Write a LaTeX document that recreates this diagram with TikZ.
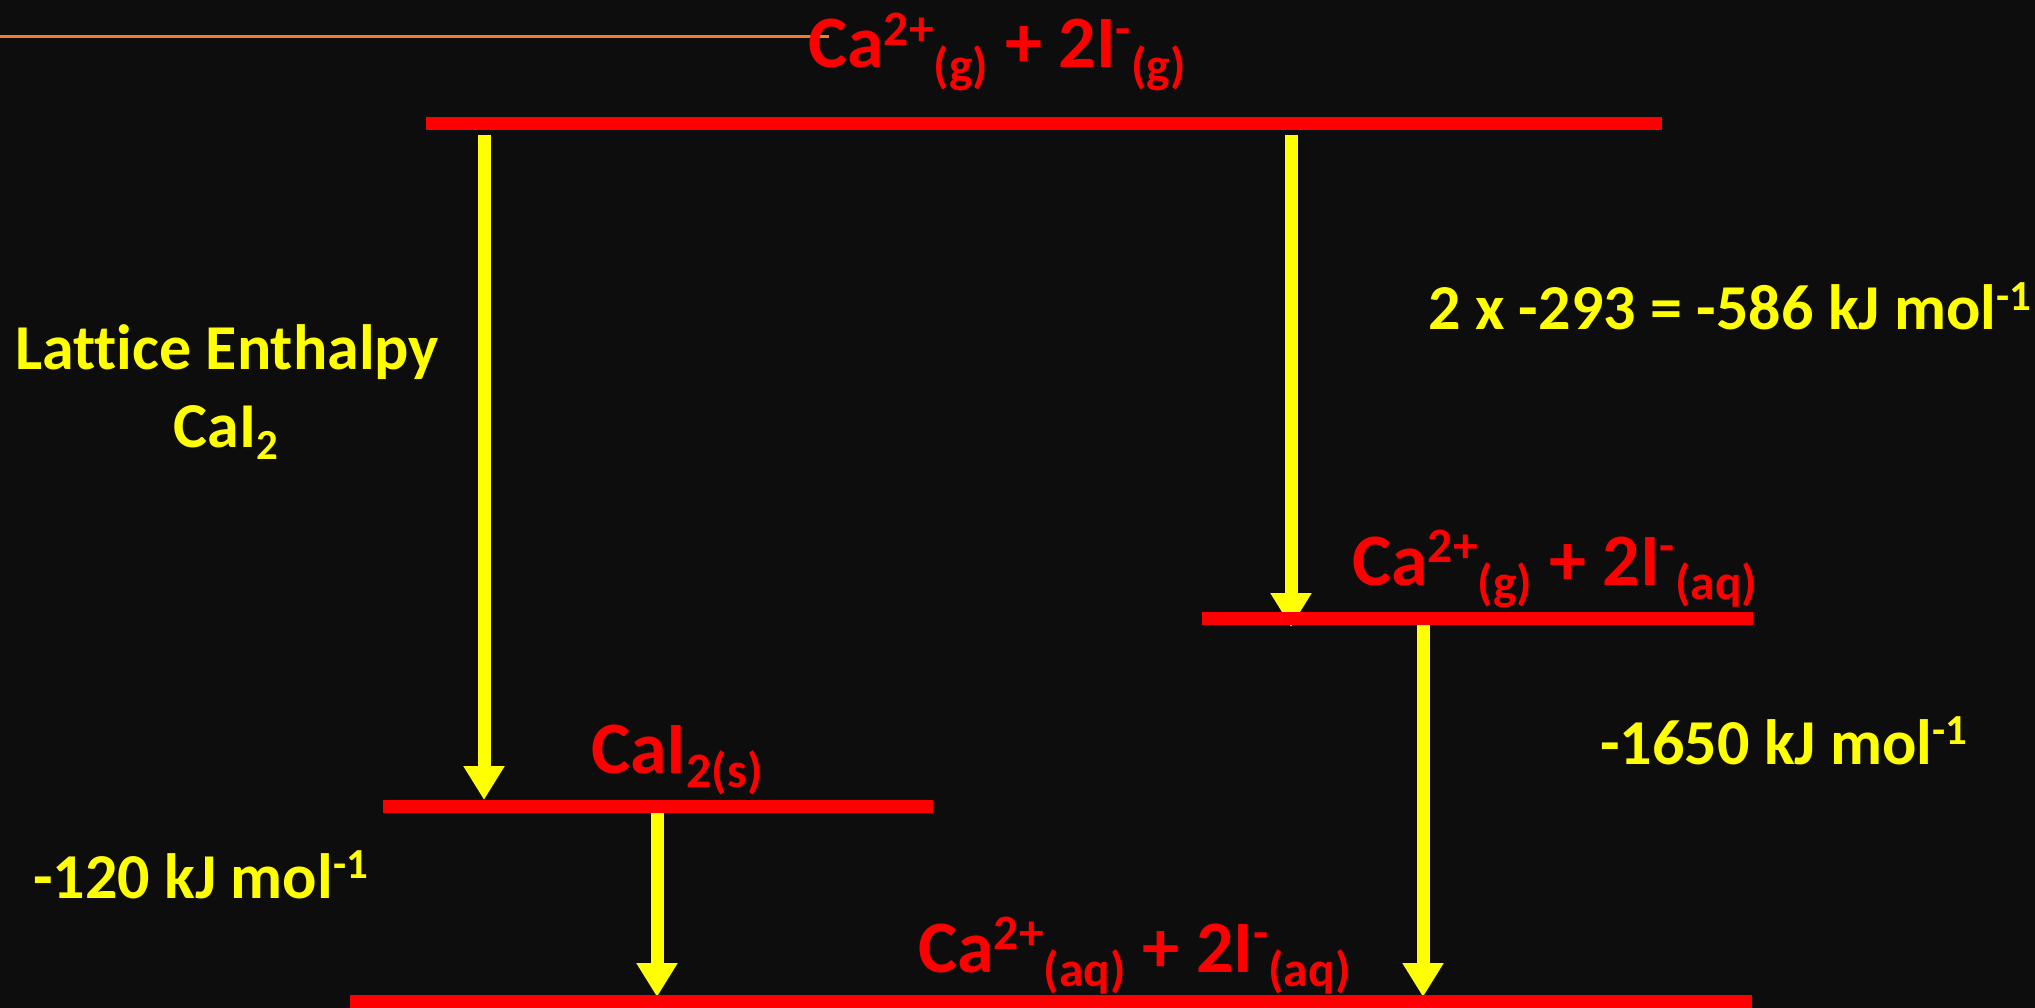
\documentclass[tikz,border=0pt]{standalone}
\usepackage{fontspec}
\setmainfont{Carlito}[Ligatures={NoCommon}]
\usepackage{graphicx}
\usetikzlibrary{arrows.meta}
\definecolor{bgc}{HTML}{0D0D0D}
\definecolor{lvred}{HTML}{FF0000}
\definecolor{yel}{HTML}{FFFF00}
\definecolor{orng}{HTML}{ED7D31}
\newcommand\up[1]{\raisebox{0.3em}{\scalebox{0.67}{#1}}}
\newcommand\dn[1]{\raisebox{-0.2em}{\scalebox{0.67}{#1}}}
\begin{document}
\begin{tikzpicture}[x=1pt,y=-1pt,
  level/.style={fill=lvred, draw=none, inner sep=0pt, minimum height=13pt, outer sep=0pt},
  redtxt/.style={text=lvred, font=\fontsize{74}{88}\selectfont\bfseries, inner sep=0pt, anchor=base west},
  ytxt/.style={text=yel, font=\fontsize{64}{76}\selectfont\bfseries, inner sep=0pt, anchor=base west},
  yarrow/.style={draw=yel, line width=13pt, -{Triangle[width=39pt,length=34pt]}}]
\fill[bgc] (0,0) rectangle (2035,1008);
\useasboundingbox (0,0) rectangle (2035,1008);
% orange rule
\coordinate (o1) at (0,36.5);
\coordinate (o2) at (829,36.5);
\draw[orng, line width=3pt] (o1) -- (o2);
% arrow endpoints
\coordinate (a1s) at (484,135);
\coordinate (a1e) at (484,800);
\coordinate (a2s) at (1291,135);
\coordinate (a2e) at (1291,627);
\coordinate (a3s) at (1423,624);
\coordinate (a3e) at (1423,997);
\coordinate (a4s) at (657,810);
\coordinate (a4e) at (657,997);
\draw[yarrow] (a1s) -- (a1e);
\draw[yarrow] (a2s) -- (a2e);
\draw[yarrow] (a3s) -- (a3e);
\draw[yarrow] (a4s) -- (a4e);
% levels
\node[level, minimum width=1236pt] (lvtop) at (1044,123.5) {};
\node[level, minimum width=551pt] (lvmid) at (1477.5,618.5) {};
\node[level, minimum width=550pt] (lvcai) at (658,806) {};
\node[level, minimum width=1402pt, minimum height=15pt] (lvbot) at (1051,1002.5) {};
% red labels
\node[redtxt] (ttop) at (808,68) {Ca\up{2+}\dn{(g)} + 2I\up{-}\dn{(g)}};
\node[redtxt] (tmid) at (1352,585) {Ca\up{2+}\dn{(g)} + 2I\up{-}\dn{(aq)}};
\node[redtxt] (tcai) at (591,773) {CaI\dn{2(s)}};
\node[redtxt] (tbot) at (918,972) {Ca\up{2+}\dn{(aq)} + 2I\up{-}\dn{(aq)}};
% yellow labels
\node[ytxt, anchor=base] (le1) at (227,370) {Lattice Enthalpy};
\node[ytxt, anchor=base] (le2) at (226,447) {CaI\dn{2}};
\node[ytxt] (h1) at (1428,330) {2 x -293 = -586 kJ mol\up{-1}};
\node[ytxt] (h2) at (1600,764) {-1650 kJ mol\up{-1}};
\node[ytxt] (h3) at (33,898) {-120 kJ mol\up{-1}};
\end{tikzpicture}
\end{document}
